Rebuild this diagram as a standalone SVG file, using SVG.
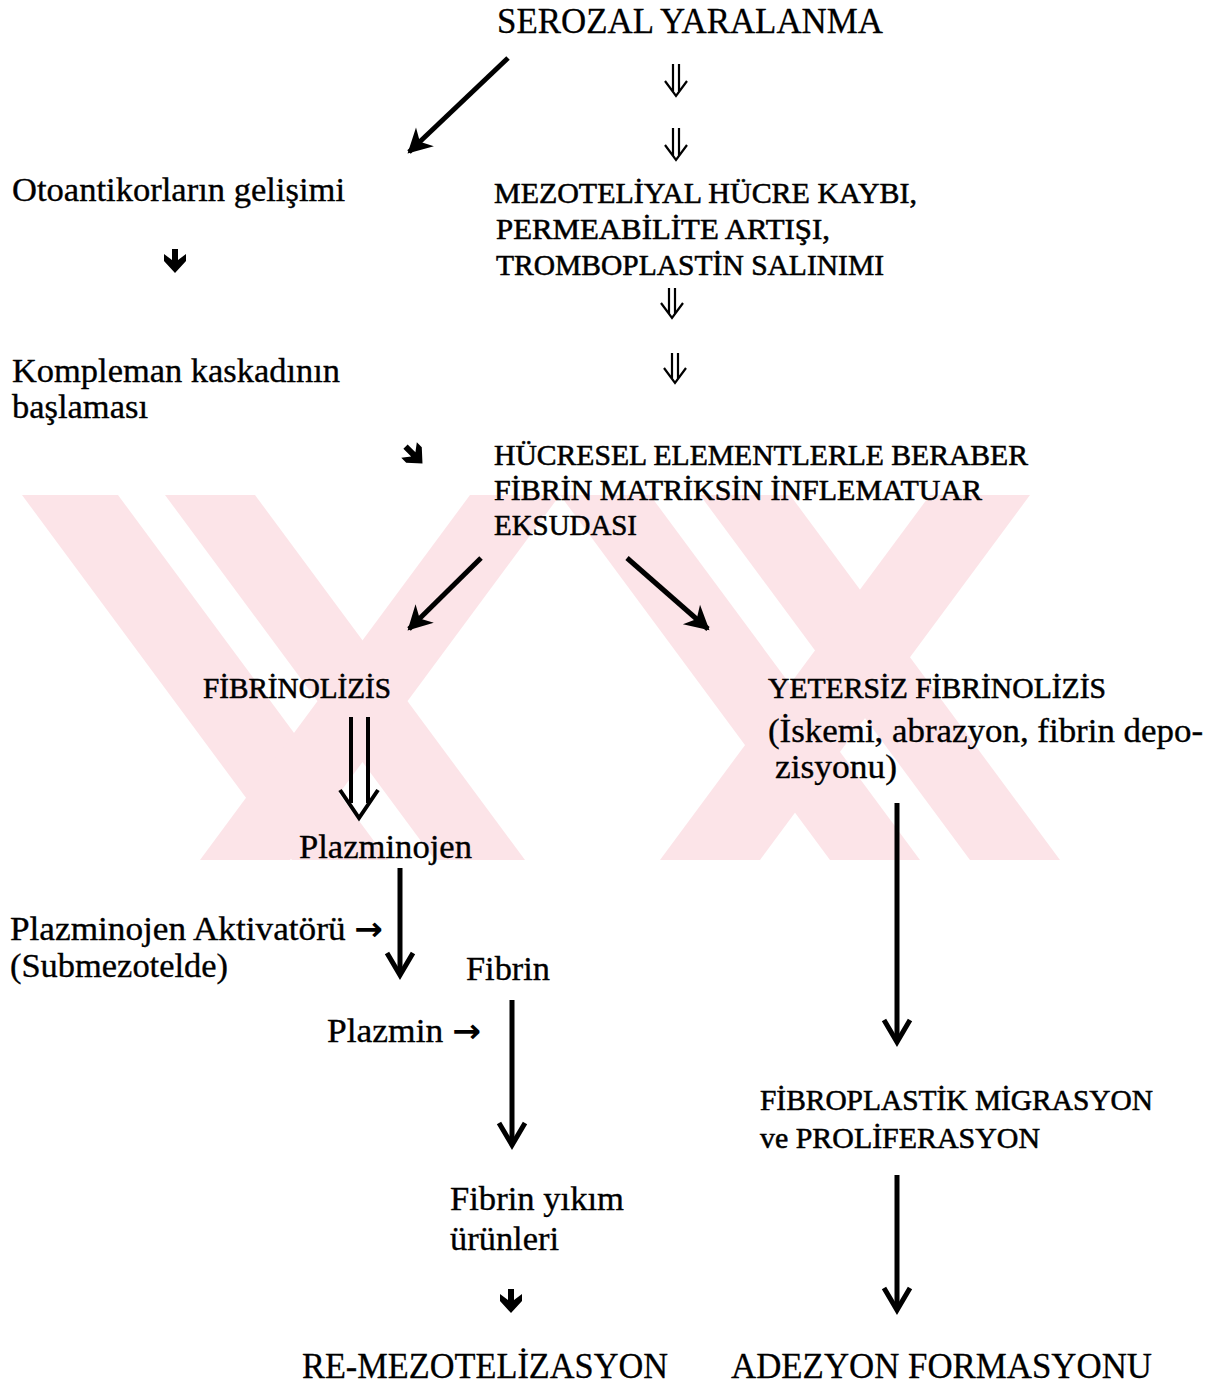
<svg xmlns="http://www.w3.org/2000/svg" width="1232" height="1387" viewBox="0 0 1232 1387">
<defs>
<style>
text{font-family:"Liberation Serif","Times New Roman",serif;fill:#000;}
.t{font-size:34px;stroke:#000;stroke-width:0.35;}
.big{font-size:36px;stroke:#000;stroke-width:0.3;}
.cap{font-size:29.5px;stroke:#000;stroke-width:0.55;}
.ar{font-family:"DejaVu Sans",sans-serif;font-weight:bold;stroke-width:0;}
.wm{fill:#fce4e8;}
.ln{stroke:#000;stroke-width:5;fill:none;stroke-linecap:butt;}
.dbl{stroke:#000;stroke-width:2.2;fill:none;}
.dblk{stroke:#000;stroke-width:4;fill:none;}
.hd{fill:#000;}
</style>
<clipPath id="wmclip"><rect x="0" y="495" width="1232" height="365"/></clipPath>
<marker id="ah" markerWidth="30" markerHeight="30" viewBox="-26 -15 30 30" refX="0" refY="0" orient="auto" markerUnits="userSpaceOnUse">
<path d="M2,0 L-22,-13 L-15,0 L-22,13 Z" fill="#000"/>
</marker>
<marker id="av" markerWidth="34" markerHeight="34" viewBox="-28 -17 32 34" refX="0" refY="0" orient="auto" markerUnits="userSpaceOnUse">
<path d="M-22,-13 L0,0 L-22,13" fill="none" stroke="#000" stroke-width="5"/>
</marker>
</defs>
<rect width="1232" height="1387" fill="#fff"/>
<g id="watermark" clip-path="url(#wmclip)">
<polygon class="wm" points="22,495 118,495 388,860 292,860"/>
<polygon class="wm" points="165,495 255,495 525,860 435,860"/>
<polygon class="wm" points="470,495 560,495 290,860 200,860"/>
<polygon class="wm" points="560,495 650,495 920,860 830,860"/>
<polygon class="wm" points="700,495 790,495 1060,860 970,860"/>
<polygon class="wm" points="930,495 1030,495 760,860 660,860"/>
</g>
<g id="connectors">
<line class="ln" x1="508" y1="58" x2="409" y2="152" marker-end="url(#ah)"/>
<path class="dbl" d="M673,64 V91 M679,64 V91 M665,81 L676,96 L687,81"/>
<path class="dbl" d="M673,128 V156 M679,128 V156 M665,145 L676,160 L687,145"/>
<path class="dbl" d="M669,288 V314 M675,288 V314 M661,303 L672,318 L683,303"/>
<path class="dbl" d="M672,353 V379 M678,353 V379 M664,368 L675,383 L686,368"/>
<path class="hd" d="M172,249 h6 v11 l8,-6 v7 l-11,12 l-11,-12 v-7 l8,6 z"/>
<path class="hd" transform="rotate(-45 414 455)" d="M411,443 h6 v11 l8,-6 v7 l-11,12 l-11,-12 v-7 l8,6 z"/>
<line class="ln" x1="481" y1="558" x2="409" y2="629" marker-end="url(#ah)"/>
<line class="ln" x1="627" y1="558" x2="708" y2="629" marker-end="url(#ah)"/>
<path class="dblk" d="M351,717 V803 M368,717 V803 M340,790 L359,818 L378,790"/>
<line class="ln" x1="400" y1="868" x2="400" y2="975" marker-end="url(#av)"/>
<line class="ln" x1="512" y1="1000" x2="512" y2="1145" marker-end="url(#av)"/>
<path class="hd" d="M508,1289 h6 v11 l8,-6 v7 l-11,12 l-11,-12 v-7 l8,6 z"/>
<line class="ln" x1="897" y1="803" x2="897" y2="1042" marker-end="url(#av)"/>
<line class="ln" x1="897" y1="1175" x2="897" y2="1310" marker-end="url(#av)"/>
</g>
<g id="n-serozal"><text class="big" x="497" y="33" textLength="386" lengthAdjust="spacingAndGlyphs">SEROZAL YARALANMA</text></g>
<g id="n-otoantikor"><text class="t" x="12" y="201" textLength="333" lengthAdjust="spacingAndGlyphs">Otoantikorların gelişimi</text></g>
<g id="n-kompleman">
<text class="t" x="12" y="382" textLength="328" lengthAdjust="spacingAndGlyphs">Kompleman kaskadının</text>
<text class="t" x="12" y="418" textLength="136" lengthAdjust="spacingAndGlyphs">başlaması</text>
</g>
<g id="n-mezotel">
<text class="cap" x="494" y="203" textLength="423" lengthAdjust="spacingAndGlyphs">MEZOTELİYAL HÜCRE KAYBI,</text>
<text class="cap" x="496" y="239" textLength="334" lengthAdjust="spacingAndGlyphs">PERMEABİLİTE ARTIŞI,</text>
<text class="cap" x="496" y="275" textLength="388" lengthAdjust="spacingAndGlyphs">TROMBOPLASTİN SALINIMI</text>
</g>
<g id="n-hucresel">
<text class="cap" x="494" y="465" textLength="534" lengthAdjust="spacingAndGlyphs">HÜCRESEL ELEMENTLERLE BERABER</text>
<text class="cap" x="494" y="500" textLength="488" lengthAdjust="spacingAndGlyphs">FİBRİN MATRİKSİN İNFLEMATUAR</text>
<text class="cap" x="494" y="535" textLength="143" lengthAdjust="spacingAndGlyphs">EKSUDASI</text>
</g>
<g id="n-fibrinolizis"><text class="cap" x="203" y="698" textLength="188" lengthAdjust="spacingAndGlyphs">FİBRİNOLİZİS</text></g>
<g id="n-yetersiz">
<text class="cap" x="768" y="698" textLength="338" lengthAdjust="spacingAndGlyphs">YETERSİZ FİBRİNOLİZİS</text>
<text class="t" x="768" y="742" textLength="435" lengthAdjust="spacingAndGlyphs">(İskemi, abrazyon, fibrin depo-</text>
<text class="t" x="775" y="778" textLength="122" lengthAdjust="spacingAndGlyphs">zisyonu)</text>
</g>
<g id="n-plazminojen"><text class="t" x="299" y="858" textLength="173" lengthAdjust="spacingAndGlyphs">Plazminojen</text></g>
<g id="n-aktivator">
<text class="t" x="10" y="940" textLength="373" lengthAdjust="spacingAndGlyphs">Plazminojen Aktivatörü <tspan class="ar" font-size="33">→</tspan></text>
<text class="t" x="10" y="977" textLength="218" lengthAdjust="spacingAndGlyphs">(Submezotelde)</text>
</g>
<g id="n-fibrin"><text class="t" x="466" y="980" textLength="84" lengthAdjust="spacingAndGlyphs">Fibrin</text></g>
<g id="n-plazmin"><text class="t" x="327" y="1042" textLength="154" lengthAdjust="spacingAndGlyphs">Plazmin <tspan class="ar" font-size="33">→</tspan></text></g>
<g id="n-yikim">
<text class="t" x="450" y="1210" textLength="174" lengthAdjust="spacingAndGlyphs">Fibrin yıkım</text>
<text class="t" x="450" y="1250" textLength="109" lengthAdjust="spacingAndGlyphs">ürünleri</text>
</g>
<g id="n-fibroplastik">
<text class="cap" x="760" y="1110" textLength="393" lengthAdjust="spacingAndGlyphs">FİBROPLASTİK MİGRASYON</text>
<text class="cap" x="760" y="1148" textLength="280" lengthAdjust="spacingAndGlyphs">ve PROLİFERASYON</text>
</g>
<g id="n-remezotel"><text class="big" x="302" y="1378" textLength="366" lengthAdjust="spacingAndGlyphs">RE-MEZOTELİZASYON</text></g>
<g id="n-adezyon"><text class="big" x="731" y="1378" textLength="421" lengthAdjust="spacingAndGlyphs">ADEZYON FORMASYONU</text></g>
</svg>
